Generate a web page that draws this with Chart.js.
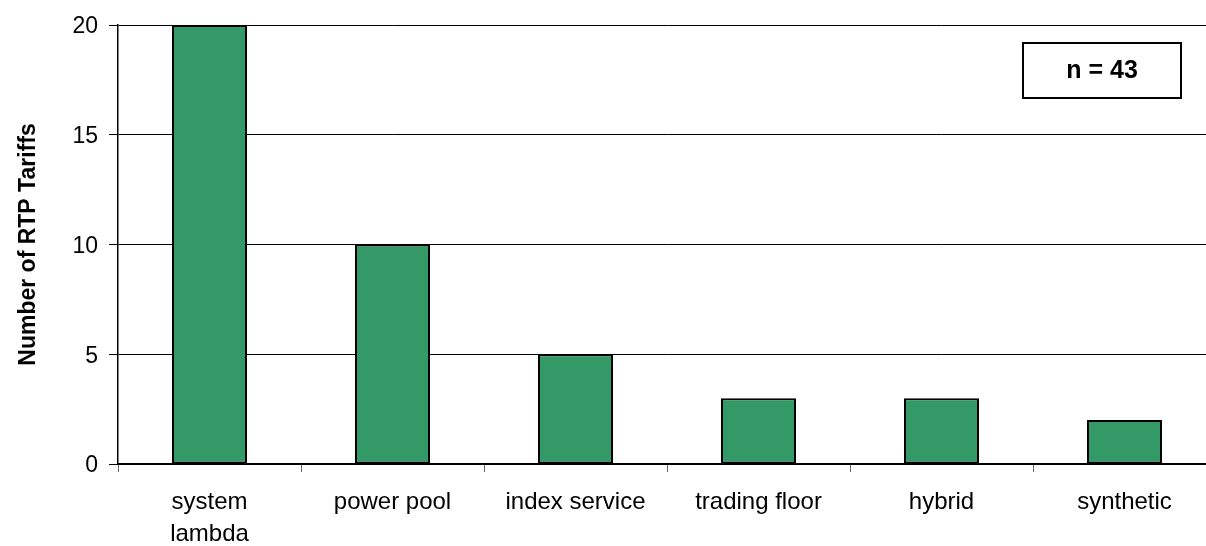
<!DOCTYPE html>
<html>
<head>
<meta charset="utf-8">
<script src="https://cdn.jsdelivr.net/npm/chart.js@4.4.1/dist/chart.umd.min.js"></script>
<style>
  html, body { margin: 0; padding: 0; background: #fff; overflow: hidden; }
  #wrap { width: 1218px; height: 546px; position: relative; }
</style>
</head>
<body>
<div id="wrap"><canvas id="chart"></canvas></div>
<script>
const categories = [['system', 'lambda'], 'power pool', 'index service', 'trading floor', 'hybrid', 'synthetic']
const tariffCounts = [20, 10, 5, 3, 3, 2]
const yTicks = [0, 5, 10, 15, 20]
const sampleNote = 'n = 43'

const font = "'Liberation Sans', Arial, sans-serif"

// the "n = 43" box in the upper right of the plot
const noteBox = {
  id: 'noteBox',
  afterDraw(chart) {
    const { ctx, chartArea } = chart
    const w = 158, h = 55
    const x = chartArea.right - 193
    const y = chartArea.top + 18
    ctx.save()
    ctx.fillStyle = '#fff'
    ctx.fillRect(x, y, w, h)
    ctx.lineWidth = 2
    ctx.strokeStyle = '#000'
    ctx.strokeRect(x, y, w, h)
    ctx.fillStyle = '#000'
    ctx.font = 'bold 25px ' + font
    ctx.textAlign = 'center'
    ctx.textBaseline = 'middle'
    ctx.fillText(sampleNote, x + w / 2, y + h / 2 + 1)
    ctx.restore()
  }
}

new Chart(document.getElementById('chart').getContext('2d'), {
  type: 'bar',
  data: {
    labels: categories,
    datasets: [{
      data: tariffCounts,
      backgroundColor: '#339966',
      borderColor: '#000',
      borderWidth: 2,
      borderSkipped: false,
      barPercentage: 0.41,
      categoryPercentage: 1
    }]
  },
  options: {
    responsive: true,
    maintainAspectRatio: false,
    animation: false,
    layout: { padding: { top: 25, left: 15, right: 2, bottom: 0 } },
    plugins: {
      legend: { display: false },
      tooltip: { enabled: false }
    },
    scales: {
      x: {
        grid: {
          offset: true,
          drawOnChartArea: false,
          tickLength: 8,
          tickColor: '#666',
          tickWidth: 1
        },
        border: { color: '#000', width: 2 },
        ticks: {
          color: '#000',
          padding: 14,
          maxRotation: 0,
          autoSkip: false,
          font: { family: font, size: 24, lineHeight: 1.35 }
        },
        afterFit: (scale) => { scale.height = 82 }
      },
      y: {
        min: 0,
        max: 20,
        afterBuildTicks: (scale) => { scale.ticks = yTicks.map(v => ({ value: v })) },
        grid: {
          color: '#000',
          lineWidth: 1,
          tickLength: 9,
          tickColor: '#000'
        },
        border: { color: '#000', width: 1.5 },
        ticks: {
          color: '#000',
          padding: 11,
          labelOffset: 2,
          font: { family: font, size: 23 }
        },
        title: {
          display: true,
          text: 'Number of RTP Tariffs',
          color: '#000',
          padding: { top: 0, bottom: 0 },
          font: { family: font, size: 23, weight: 'bold' }
        },
        afterFit: (scale) => { scale.width = 103 }
      }
    }
  },
  plugins: [noteBox]
})
</script>
</body>
</html>
